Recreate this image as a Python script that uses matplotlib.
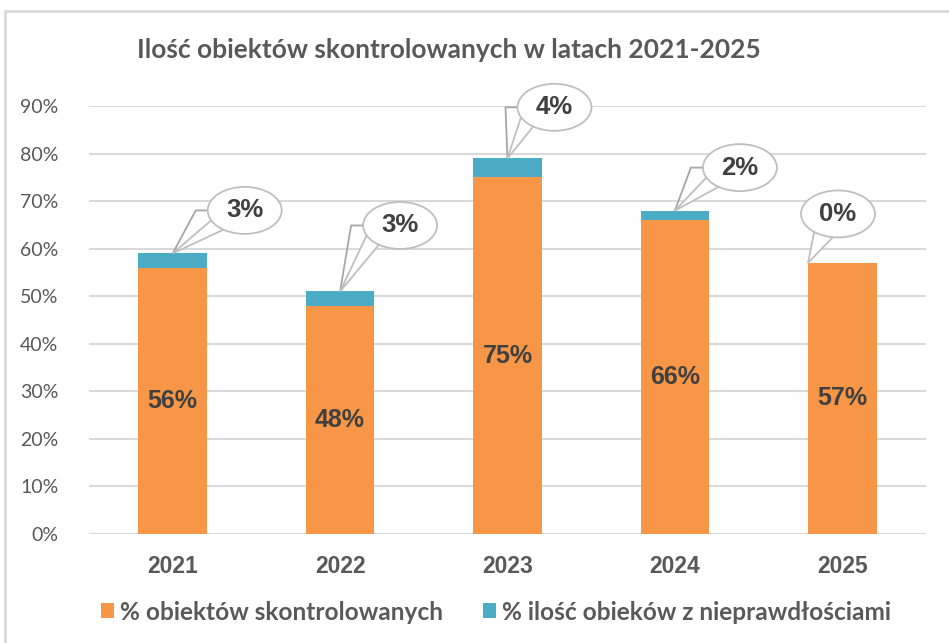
import matplotlib
matplotlib.use('Agg')
import matplotlib.pyplot as plt
from matplotlib.patches import Ellipse, Polygon, Rectangle
from matplotlib.lines import Line2D
from matplotlib.transforms import IdentityTransform
import numpy as np

years = ['2021', '2022', '2023', '2024', '2025']
skontrolowane = [56, 48, 75, 66, 57]
nieprawidlowosci = [3, 3, 4, 2, 0]

title = 'Ilość obiektów skontrolowanych w latach 2021-2025'
label_a = '% obiektów skontrolowanych'
label_b = '% ilość obieków z nieprawdłościami'

orange = '#F79646'
teal = '#4BACC6'
grid_c = '#D9D9D9'
txt_c = '#595959'
lbl_c = '#404040'

W, H = 949, 643
fig = plt.figure(figsize=(W / 100, H / 100), dpi=100)
ax = fig.add_axes([89 / W, 109 / H, (926 - 89) / W, (534 - 106) / H])

x = np.arange(len(years))
ax.bar(x, skontrolowane, width=0.41, color=orange, label=label_a, zorder=2)
ax.bar(x, nieprawidlowosci, width=0.41, bottom=skontrolowane, color=teal,
       label=label_b, zorder=2)

ax.set_xlim(-0.5, len(years) - 0.5)
ax.set_ylim(0, 90)
ax.set_yticks(range(0, 91, 10))
ax.set_yticklabels([f'{v}%' for v in range(0, 91, 10)], fontsize=14,
                   family='Lato', color=txt_c)
ax.set_xticks(x)
ax.set_xticklabels(years, fontsize=16.5, family='Liberation Sans',
                   fontweight='bold', color=txt_c)
ax.tick_params(length=0)
ax.tick_params(axis='x', pad=15)
ax.tick_params(axis='y', pad=22)
ax.grid(axis='y', color=grid_c, linewidth=1.5, zorder=0)
for s in ax.spines.values():
    s.set_visible(False)
ax.axhline(0, color=grid_c, linewidth=1.5, zorder=1)

for xi, v in zip(x, skontrolowane):
    ax.text(xi, v / 2, f'{v}%', ha='center', va='center', fontsize=18,
            family='Liberation Sans', fontweight='bold', color=lbl_c, zorder=3)

# callout bubbles: offsets (pixels) of ellipse centre from tip
offsets = [(72, 43), (60, 66), (47, 51), (65, 43), (30, 49)]
ew, eh = 74, 47
ident = IdentityTransform()
for i, (xi, a, b) in enumerate(zip(x, skontrolowane, nieprawidlowosci)):
    top = a + b
    tx = xi if b > 0 else xi - 0.205
    px, py = ax.transData.transform((tx, top))
    dx, dy = offsets[i]
    cx, cy = px + dx, py + dy
    if b > 0:
        angs = np.radians([205, 235])
    else:
        angs = np.radians([230, 262])
    pts = [(cx + ew / 2 * np.cos(t), cy + eh / 2 * np.sin(t)) for t in angs]
    fig.add_artist(Polygon([(px, py), pts[0], pts[1]], closed=True,
                           facecolor='white', edgecolor='#BFBFBF', lw=1.3,
                           transform=ident, zorder=5))
    if dx > 40:
        lx = cx - ew / 2
        fig.add_artist(Line2D([px, lx - 12, lx], [py, cy, cy], color='#A6A6A6',
                              lw=1.3, transform=ident, zorder=4))
    fig.add_artist(Ellipse((cx, cy), ew, eh, facecolor='white',
                           edgecolor='#BFBFBF', lw=1.3, transform=ident, zorder=6))
    fig.text(cx, cy, f'{b}%', ha='center', va='center', fontsize=18.5,
             family='Liberation Sans', fontweight='bold', color=lbl_c,
             transform=ident, zorder=7)

fig.text(137 / W, 1 - 50 / H, title, ha='left', va='center', fontsize=19,
         family='Lato', fontweight='bold', color=txt_c)

fig.legend(loc='center', bbox_to_anchor=(496 / W, 1 - 612 / H), ncol=2,
           frameon=False, handlelength=0.55, handleheight=0.55,
           handletextpad=0.25, columnspacing=1.6,
           prop={'family': 'Lato', 'weight': 'bold', 'size': 17.6},
           labelcolor=txt_c)

# chart frame (top and left edges visible)
fig.add_artist(Rectangle((5 / W, -0.1), 1.2, 1.1 - 11 / H, fill=False,
                         edgecolor=grid_c, lw=2, transform=fig.transFigure))

fig.savefig('out.png', dpi=100)
